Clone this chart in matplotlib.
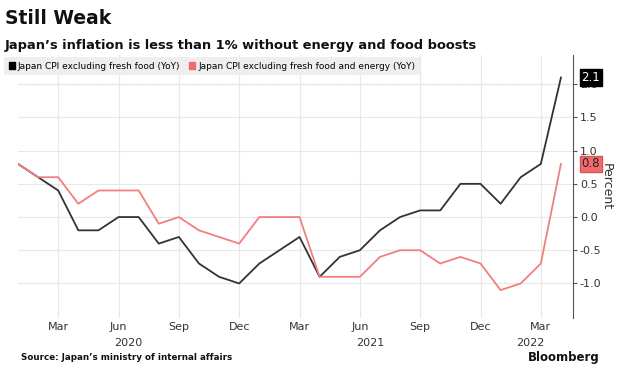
import matplotlib
matplotlib.use("Agg")
from matplotlib import pyplot as plt
from matplotlib.patches import Patch
from matplotlib.transforms import blended_transform_factory

# Monatswerte Jan 2020 .. Apr 2022
monate = ['Jan', 'Feb', 'Mar', 'Apr', 'May', 'Jun', 'Jul', 'Aug', 'Sep', 'Oct', 'Nov', 'Dec'] * 2 + ['Jan', 'Feb', 'Mar', 'Apr']
jahre = [2020] * 12 + [2021] * 12 + [2022] * 4
cpi_ex_food = [0.8, 0.6, 0.4, -0.2, -0.2, 0.0, 0.0, -0.4, -0.3, -0.7, -0.9, -1.0,
               -0.7, -0.5, -0.3, -0.9, -0.6, -0.5, -0.2, 0.0, 0.1, 0.1, 0.5, 0.5,
               0.2, 0.6, 0.8, 2.1]
cpi_ex_food_energy = [0.8, 0.6, 0.6, 0.2, 0.4, 0.4, 0.4, -0.1, 0.0, -0.2, -0.3, -0.4,
                      0.0, 0.0, 0.0, -0.9, -0.9, -0.9, -0.6, -0.5, -0.5, -0.7, -0.6, -0.7,
                      -1.1, -1.0, -0.7, 0.8]
label1 = 'Japan CPI excluding fresh food (YoY)'
label2 = 'Japan CPI excluding fresh food and energy (YoY)'

schwarz = '#333333'
rot = '#f07f7f'
schrift = 'Liberation Sans Narrow'

plt.rcParams['axes.unicode_minus'] = False
fig = plt.figure(figsize=(6.4, 3.78), dpi=100)
ax = fig.add_axes([18 / 640, 1 - 318 / 378, 555 / 640, 263 / 378])

x = list(range(len(monate)))
ax.plot(x, cpi_ex_food, color=schwarz, lw=1.3)
ax.plot(x, cpi_ex_food_energy, color=rot, lw=1.3)
ax.axhline(2.0, color='#999999', ls=(0, (1, 1)), lw=0.8, zorder=0)

ax.set_xlim(0, len(x) - 1 + 0.6)
ax.set_ylim(-1.52, 2.44)

# x-Achse: nur Mar/Jun/Sep/Dec
xt = [i for i in x if monate[i] in ('Mar', 'Jun', 'Sep', 'Dec')]
ax.set_xticks(xt)
ax.set_xticklabels([monate[i] for i in xt], fontsize=8, color='#333333', family=schrift)
ax.tick_params(axis='x', length=0, pad=3)
trans = blended_transform_factory(ax.transData, ax.transAxes)
for j in sorted(set(jahre)):
    idx = [i for i in x if jahre[i] == j]
    mitte = (idx[0] + idx[-1]) / 2
    ax.text(mitte, -0.075, str(j), transform=trans, ha='center', va='top', fontsize=8,
            color='#333333', family=schrift)

ax.yaxis.tick_right()
yt = [-1.0, -0.5, 0.0, 0.5, 1.0, 1.5, 2.0]
ax.set_yticks(yt)
ax.set_yticklabels(['{:.1f}'.format(v) for v in yt], fontsize=8, color='#333333', family=schrift)
ax.tick_params(axis='y', length=3, color='#555555', pad=2)
ax.yaxis.set_label_position('right')
ax.set_ylabel('Percent', rotation=270, fontsize=9, color='#333333', labelpad=8, family=schrift)

ax.grid(True, color='#e8e8e8', lw=0.8)
ax.set_axisbelow(True)
for s in ['top', 'left', 'bottom']:
    ax.spines[s].set_visible(False)
ax.spines['right'].set_color('#555555')

# Wertmarken am rechten Rand
rechts = blended_transform_factory(ax.transAxes, ax.transData)
ax.annotate('{:.1f}'.format(cpi_ex_food[-1]), xy=(1.0, cpi_ex_food[-1]), xycoords=rechts,
            xytext=(6, 0), textcoords='offset points', va='center', fontsize=8.5, family=schrift,
            color='white', bbox=dict(boxstyle='square,pad=0.15', fc='black', ec='black'), zorder=5)
ax.annotate('{:.1f}'.format(cpi_ex_food_energy[-1]), xy=(1.0, cpi_ex_food_energy[-1]), xycoords=rechts,
            xytext=(6, 0), textcoords='offset points', va='center', fontsize=8.5, family=schrift,
            color='#222222', bbox=dict(boxstyle='square,pad=0.15', fc='#f26b6b', ec='#d95555'), zorder=5)

fig.legend(handles=[Patch(color='black', label=label1), Patch(color='#f26b6b', label=label2)],
           loc='upper left', bbox_to_anchor=(4 / 640, 1 - 57 / 378), ncol=2,
           prop={'family': schrift, 'size': 6.5},
           frameon=True, facecolor='#efefef', edgecolor='none', framealpha=1, fancybox=False,
           handlelength=0.7, handleheight=0.7, handletextpad=0.3, columnspacing=1.0,
           borderpad=0.5, borderaxespad=0)

fig.text(5 / 640, 1 - 18 / 378, 'Still Weak', fontsize=13.5, fontweight='bold', va='center', color='#111111')
fig.text(5 / 640, 1 - 45 / 378, 'Japan\u2019s inflation is less than 1% without energy and food boosts',
         fontsize=9.4, fontweight='bold', va='center', color='#111111')
fig.text(21 / 640, 1 - 358 / 378, 'Source: Japan\u2019s ministry of internal affairs', fontsize=6.3,
         fontweight='bold', va='center', color='#111111')
fig.text(600 / 640, 1 - 357 / 378, 'Bloomberg', fontsize=8.5, fontweight='bold', va='center',
         ha='right', color='#111111', family=schrift)

plt.savefig('out.png', dpi=100)
